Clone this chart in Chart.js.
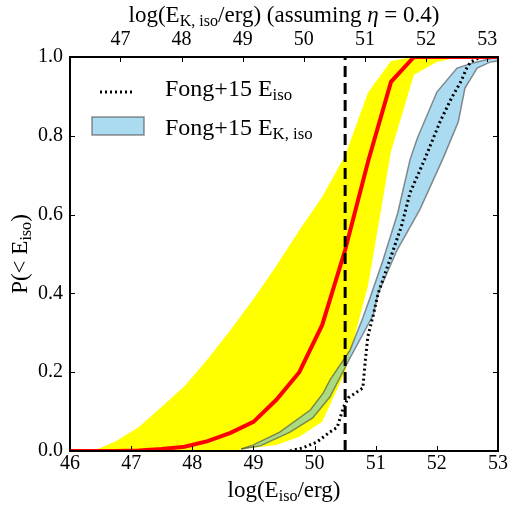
<!DOCTYPE html>
<html>
<head>
<meta charset="utf-8">
<script src="https://cdn.jsdelivr.net/npm/chart.js@4.4.0/dist/chart.umd.min.js"></script>
<style>
  body { margin: 0; background: #fff; }
  #wrap { width: 509px; height: 505px; }
</style>
</head>
<body>
<div id="wrap"><canvas id="myChart" width="509" height="505"></canvas></div>
<script>
// model grid in log(E_iso/erg)
var modelX = [46, 46.375, 46.75, 47.125, 47.5, 47.875, 48.25, 48.625, 49, 49.375, 49.75, 50.125, 50.5, 50.875, 51.25, 51.625, 52, 52.375, 52.75, 53];
var medianY = [0, 0, 0, 0.001, 0.005, 0.011, 0.025, 0.046, 0.074, 0.13, 0.2, 0.32, 0.51, 0.735, 0.937, 1, 1, 1, 1, 1];
var bandHiY = [0, 0, 0.025, 0.061, 0.112, 0.165, 0.233, 0.307, 0.386, 0.47, 0.56, 0.645, 0.75, 0.91, 0.99, 1, 1, 1, 1, 1];
var bandLoY = [0, 0, 0, 0, 0, 0, 0, 0, 0.008, 0.015, 0.036, 0.074, 0.2, 0.42, 0.76, 0.955, 0.987, 1, 1, 1];

// Fong+15 E_iso cumulative
var fongX = [49.6, 49.81, 50.04, 50.25, 50.37, 50.47, 50.55, 50.79, 50.83, 50.87, 50.96, 51.04, 51.23, 51.42, 51.56, 51.8, 52.05, 52.24, 52.39, 52.49, 52.55, 52.71];
var fongY = [0, 0.008, 0.023, 0.048, 0.06, 0.11, 0.135, 0.16, 0.23, 0.29, 0.345, 0.4, 0.485, 0.57, 0.655, 0.74, 0.835, 0.896, 0.937, 0.972, 0.987, 1];

// Fong+15 E_K,iso band edges
var kHiX = [48.8, 48.99, 49.43, 49.93, 50.14, 50.25, 50.58, 50.79, 50.91, 51.12, 51.36, 51.56, 51.68, 52, 52.33, 52.59, 52.98];
var kHiY = [0.005, 0.015, 0.048, 0.104, 0.147, 0.18, 0.256, 0.338, 0.39, 0.485, 0.604, 0.739, 0.794, 0.911, 0.972, 0.985, 1];
var kLoX = [48.8, 49.11, 49.6, 49.97, 50.25, 50.58, 50.96, 51.04, 51.35, 51.72, 52.1, 52.35, 52.46, 52.66, 52.87, 53];
var kLoY = [0.005, 0.013, 0.048, 0.084, 0.137, 0.236, 0.345, 0.4, 0.51, 0.612, 0.742, 0.835, 0.921, 0.972, 0.987, 0.99];

var cutX = [50.5, 50.5];
var cutY = [0, 1];

var xTicks = [46, 47, 48, 49, 50, 51, 52, 53];
var topTicks = [47, 48, 49, 50, 51, 52, 53];
var yTicks = [0, 0.2, 0.4, 0.6, 0.8, 1.0];
var kShift = 0.176; // log10((1-eta)/eta) for eta = 0.4

var serif = "'Liberation Serif', 'DejaVu Serif', serif";
var blueFill = "rgba(100, 190, 230, 0.55)";
var blueEdge = "rgba(70, 70, 70, 0.6)";

function pts(xs, ys) {
  return xs.map(function (x, i) { return { x: x, y: ys[i] }; });
}

function setTicks(list) {
  return function (scale) {
    scale.ticks = list.map(function (v) { return { value: v }; });
  };
}

// text with subscripts: parts = [[text, isSub, isItalic], ...]
function richText(ctx, parts, x, y, size, align) {
  function font(p) {
    return (p[2] ? "italic " : "") + (p[1] ? size * 0.7 : size) + "px " + serif;
  }
  var total = 0;
  parts.forEach(function (p) {
    ctx.font = font(p);
    p.w = ctx.measureText(p[0]).width;
    total += p.w;
  });
  var cx = align === "center" ? x - total / 2 : x;
  ctx.textAlign = "left";
  ctx.textBaseline = "alphabetic";
  ctx.fillStyle = "#000";
  parts.forEach(function (p) {
    ctx.font = font(p);
    ctx.fillText(p[0], cx, p[1] ? y + size * 0.17 : y);
    cx += p.w;
  });
}

var decor = {
  id: "decor",
  afterDraw: function (chart) {
    var ctx = chart.ctx;
    var a = chart.chartArea;
    var sx = chart.scales.x, sx2 = chart.scales.x2, sy = chart.scales.y;
    ctx.save();
    // inward tick marks
    ctx.strokeStyle = "#000";
    ctx.lineWidth = 1;
    ctx.beginPath();
    xTicks.forEach(function (v) {
      var px = Math.round(sx.getPixelForValue(v)) + 0.5;
      ctx.moveTo(px, a.bottom); ctx.lineTo(px, a.bottom - 5);
    });
    topTicks.forEach(function (v) {
      var px = Math.round(sx2.getPixelForValue(v)) + 0.5;
      ctx.moveTo(px, a.top); ctx.lineTo(px, a.top + 5);
    });
    yTicks.forEach(function (v) {
      var py = Math.round(sy.getPixelForValue(v)) + 0.5;
      ctx.moveTo(a.left, py); ctx.lineTo(a.left + 5, py);
      ctx.moveTo(a.right, py); ctx.lineTo(a.right - 5, py);
    });
    ctx.stroke();
    // frame
    ctx.lineWidth = 2;
    ctx.strokeRect(a.left, a.top, a.right - a.left, a.bottom - a.top);

    // legend
    ctx.strokeStyle = "#000";
    ctx.lineWidth = 3;
    ctx.setLineDash([2, 3]);
    ctx.beginPath();
    ctx.moveTo(100, 92); ctx.lineTo(133, 92);
    ctx.stroke();
    ctx.setLineDash([]);
    ctx.fillStyle = blueFill;
    ctx.fillRect(92, 117, 52, 18);
    ctx.strokeStyle = blueEdge;
    ctx.lineWidth = 1.5;
    ctx.strokeRect(92, 117, 52, 18);
    richText(ctx, [["Fong+15 E", false], ["iso", true]], 165, 96, 24, "left");
    richText(ctx, [["Fong+15 E", false], ["K, iso", true]], 165, 135, 24, "left");

    // axis titles
    richText(ctx, [["log(E", false], ["iso", true], ["/erg)", false]], (a.left + a.right) / 2, 497, 23, "center");
    richText(ctx, [["log(E", false], ["K, iso", true], ["/erg) (assuming ", false], ["\u03b7", false, true], [" = 0.4)", false]], (a.left + a.right) / 2, 22, 23, "center");
    ctx.translate(27, (a.top + a.bottom) / 2);
    ctx.rotate(-Math.PI / 2);
    richText(ctx, [["P(< E", false], ["iso", true], [")", false]], 0, 0, 23, "center");
    ctx.restore();
  }
};

var tickFont = { family: serif, size: 20 };

var config = {
  type: "line",
  data: {
    datasets: [
      { label: "cut", data: pts(cutX, cutY), borderColor: "#000", borderWidth: 3, borderDash: [11, 6], borderCapStyle: "butt", pointRadius: 0, fill: false, order: 0 },
      { label: "median", data: pts(modelX, medianY), borderColor: "rgb(255, 0, 0)", borderWidth: 4, pointRadius: 0, fill: false, order: 1 },
      { label: "Fong+15 E_iso", data: pts(fongX, fongY), borderColor: "#000", borderWidth: 3, borderDash: [2, 3], borderCapStyle: "butt", pointRadius: 0, fill: false, order: 2 },
      { label: "K hi", data: pts(kHiX, kHiY), borderColor: blueEdge, borderWidth: 1.5, pointRadius: 0, fill: false, order: 3 },
      { label: "Fong+15 E_K,iso", data: pts(kLoX, kLoY), borderColor: blueEdge, borderWidth: 1.5, pointRadius: 0, fill: "-1", backgroundColor: blueFill, order: 4 },
      { label: "band hi", data: pts(modelX, bandHiY), borderColor: "rgba(0,0,0,0)", borderWidth: 0, pointRadius: 0, fill: false, order: 5 },
      { label: "band lo", data: pts(modelX, bandLoY), borderColor: "rgba(0,0,0,0)", borderWidth: 0, pointRadius: 0, fill: "-1", backgroundColor: "rgb(255, 255, 0)", order: 6 }
    ]
  },
  options: {
    responsive: false,
    animation: false,
    layout: { padding: { left: 0, right: 11, top: 0, bottom: 0 } },
    plugins: { legend: { display: false }, tooltip: { enabled: false } },
    elements: { line: { tension: 0 } },
    scales: {
      x: {
        type: "linear", position: "bottom", min: 46, max: 53,
        afterBuildTicks: setTicks(xTicks),
        afterFit: function (s) { s.height = 54; },
        grid: { display: false, drawTicks: false },
        border: { display: false },
        ticks: { font: tickFont, color: "#000", padding: 1, maxRotation: 0, autoSkip: false }
      },
      x2: {
        type: "linear", position: "top", min: 46 + kShift, max: 53 + kShift,
        afterBuildTicks: setTicks(topTicks),
        afterFit: function (s) { s.height = 57; },
        grid: { display: false, drawTicks: false },
        border: { display: false },
        ticks: { font: tickFont, color: "#000", padding: 5, maxRotation: 0, autoSkip: false }
      },
      y: {
        type: "linear", min: 0, max: 1,
        afterBuildTicks: setTicks(yTicks),
        afterFit: function (s) { s.width = 70; },
        grid: { display: false, drawTicks: false },
        border: { display: false },
        ticks: { font: tickFont, color: "#000", padding: 7, callback: function (v) { return v.toFixed(1); } }
      }
    }
  },
  plugins: [decor]
};

var myChart = new Chart(document.getElementById("myChart"), config);
</script>
</body>
</html>
